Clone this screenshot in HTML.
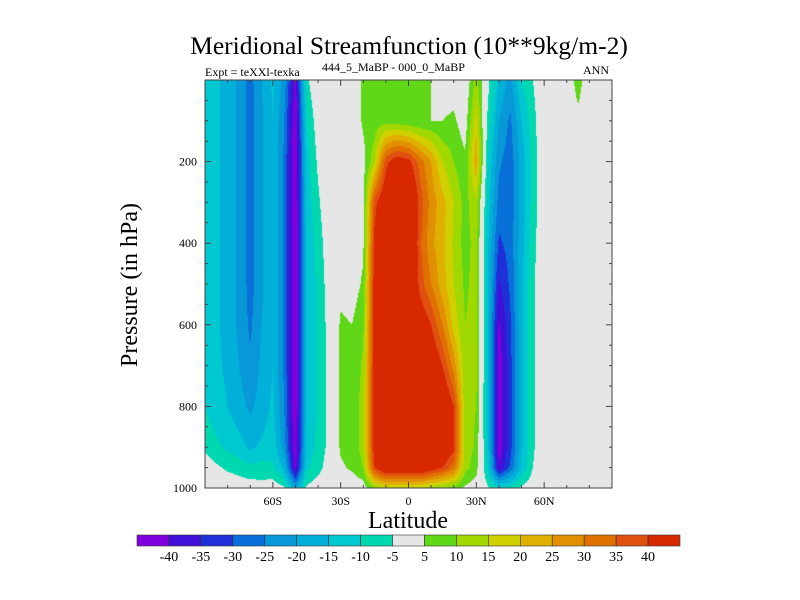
<!DOCTYPE html>
<html><head><meta charset="utf-8">
<style>
body{margin:0;background:#fff;width:800px;height:600px;overflow:hidden;font-family:"Liberation Serif",serif}
#wrap{position:relative;width:800px;height:600px}
canvas{position:absolute;left:205px;top:80px}
svg{position:absolute;left:0;top:0}
</style></head><body>
<div id="wrap">
<canvas id="cv" width="407" height="408"></canvas>
<svg id="sv" width="800" height="600"></svg>
</div>
<script>
const lats=[-90,-85,-80,-75,-70,-65,-60,-55,-50,-45,-40,-35,-30,-25,-20,-15,-10,-5,0,5,10,15,20,25,30,35,40,45,50,55,60,65,70,75,80,85,90];
const pres=[0,100,200,300,400,500,600,700,800,900,950,1000];
const field=[
[-11,-11,-11,-11,-11,-11,-11,-11,-10,-6,-2,0],
[-14,-14,-14,-14,-14,-14,-14,-14,-13,-9,-4,0],
[-17,-17,-17,-17,-17,-17,-17,-16,-15,-11,-6,-1],
[-21,-21,-21,-21,-21,-21,-21,-20,-18,-13,-7,-2],
[-27,-27,-27,-27,-27,-27,-26,-24,-21,-16,-9,-2],
[-20,-21,-21,-21,-21,-21,-20,-19,-18,-14,-8,-3],
[-14,-15,-15,-15,-15,-15,-15,-15,-14,-12,-9,-2],
[-22,-25,-26,-26,-26,-26,-26,-26,-25,-22,-16,-4],
[-42,-45,-46,-46,-46,-46,-46,-46,-46,-45,-42,-20],
[-6,-10,-12,-13,-14,-14,-14,-14,-14,-13,-11,-4],
[0,-2,-4,-6,-8,-9,-9,-9,-9,-9,-7,-2],
[0,0,0,0,-1,-2,-3,-3,-3,-3,-2,0],
[0,0,0,0,0,3,6,6,6,6,4,0],
[0,0,0,0,0,2,5,6,7,7,6,1],
[6,6,3,3,4,6,9,11,12,12,10,2],
[7,7,14,38,42,44,44,44,44,44,40,10],
[7,8,38,48,50,50,50,50,50,50,50,15],
[7,7,45,55,55,55,55,55,55,55,50,15],
[6,6,42,55,55,55,55,55,55,55,50,15],
[6,5,33,38,36,38,46,52,55,55,50,15],
[5,5,25,28,26,30,40,48,52,52,45,12],
[2,5,15,22,22,22,30,40,50,50,40,10],
[2,6,10,15,14,15,18,28,40,42,32,8],
[0,2,6,8,8,9,10,11,12,13,12,4],
[12,18,24,14,12,12,12,11,10,9,7,2],
[-3,-6,-10,-12,-14,-14,-14,-14,-14,-13,-11,-4],
[-15,-20,-24,-27,-31,-36,-41,-43,-43,-43,-40,-10],
[-22,-26,-28,-28,-28,-29,-31,-32,-32,-32,-29,-8],
[-10,-15,-18,-18,-17,-16,-16,-16,-16,-16,-14,-4],
[-5,-7,-8,-8,-7,-6,-6,-6,-6,-6,-5,-2],
[0,0,0,0,0,0,0,0,0,0,0,0],
[0,0,0,0,0,0,0,0,0,0,0,0],
[0,0,0,0,0,0,0,0,0,0,0,0],
[8,3,0,0,0,0,0,0,0,0,0,0],
[0,0,0,0,0,0,0,0,0,0,0,0],
[0,0,0,0,0,0,0,0,0,0,0,0],
[0,0,0,0,0,0,0,0,0,0,0,0]];
const levels=[-40,-35,-30,-25,-20,-15,-10,-5,5,10,15,20,25,30,35,40];
const colors=['#7f00dc','#4010d8','#2030d8','#0870d8','#0898d8','#00b0d8','#00c8d0','#00d8b0','#e6e6e6','#60d818','#a0d800','#d0d000','#e0b000','#e09000','#e07000','#e05010','#d82800'];
const xTicks=[-60,-30,0,30,60];
const xLabels=['60S','30S','0','30N','60N'];
const yTicks=[200,400,600,800,1000];

const PX=205,PY=80,PW=407,PH=408;
const xs=l=>PX+(l+90)/180*PW;
const ys=p=>PY+p/1000*PH;
function hex(c){return [parseInt(c.slice(1,3),16),parseInt(c.slice(3,5),16),parseInt(c.slice(5,7),16)];}
const rgb=colors.map(hex);
function seg(arr,v){let i=0;while(i<arr.length-2&&v>arr[i+1])i++;return [i,(v-arr[i])/(arr[i+1]-arr[i])];}
const ctx=document.getElementById('cv').getContext('2d');
const img=ctx.createImageData(PW,PH);
for(let py=0;py<PH;py++){
  const p=(py+0.5)/PH*1000;const [j,tj]=seg(pres,p);
  for(let px=0;px<PW;px++){
    const l=(px+0.5)/PW*180-90;const [i,ti]=seg(lats,l);
    const v=(field[i][j]*(1-tj)+field[i][j+1]*tj)*(1-ti)+(field[i+1][j]*(1-tj)+field[i+1][j+1]*tj)*ti;
    let k=0;while(k<levels.length&&v>=levels[k])k++;
    const c=rgb[k];const o=(py*PW+px)*4;
    img.data[o]=c[0];img.data[o+1]=c[1];img.data[o+2]=c[2];img.data[o+3]=255;
  }
}
ctx.putImageData(img,0,0);

const sv=document.getElementById('sv');const NS='http://www.w3.org/2000/svg';
function mk(t,a,txt){const e=document.createElementNS(NS,t);for(const k in a)e.setAttribute(k,a[k]);if(txt!==undefined)e.textContent=txt;sv.appendChild(e);return e;}
let e;
e=mk('rect',{x:PX,y:PY,width:PW,height:PH,fill:'none',stroke:'#444','stroke-width':1});


for(let l=-80;l<=80;l+=10){
  const major=xTicks.includes(l);const len=major?6:3;
  e=mk('line',{x1:xs(l),x2:xs(l),y1:PY+PH,y2:PY+PH-len,stroke:'#444'});
  
  
  mk('line',{x1:xs(l),x2:xs(l),y1:PY,y2:PY+len,stroke:'#444'});
}
xTicks.forEach((l,i)=>{
  e=mk('text',{x:xs(l),y:505,'font-size':12,'text-anchor':'middle',fill:'#000'},xLabels[i]);
  
  
});
for(let p=50;p<1000;p+=50){
  const major=yTicks.includes(p);const len=major?6:3;
  e=mk('line',{x1:PX,x2:PX+len,y1:ys(p),y2:ys(p),stroke:'#444'});
  
  
  mk('line',{x1:PX+PW,x2:PX+PW-len,y1:ys(p),y2:ys(p),stroke:'#444'});
}
yTicks.forEach(p=>{
  e=mk('text',{x:PX-8,y:ys(p)+4,'font-size':12,'text-anchor':'end',fill:'#000'},String(p));
  
  
});
e=mk('text',{x:409,y:54,'font-size':25.5,'text-anchor':'middle'},'Meridional Streamfunction (10**9kg/m-2)');


e=mk('text',{x:205,y:76,'font-size':12},'Expt = teXXl-texka');


e=mk('text',{x:322,y:71,'font-size':12},'444_5_MaBP - 000_0_MaBP');


e=mk('text',{x:583,y:74,'font-size':12},'ANN');


e=mk('text',{x:408,y:528,'font-size':24,'text-anchor':'middle'},'Latitude');


e=mk('text',{x:0,y:0,'font-size':24,'text-anchor':'middle',transform:'translate(137,285) rotate(-90)'},'Pressure (in hPa)');


const CX=137,CW=543/17;
colors.forEach((c,i)=>{
  e=mk('rect',{x:CX+i*CW,y:535,width:CW,height:11,fill:c,stroke:'#333','stroke-width':0.6});
  
  
});
levels.forEach((v,i)=>{
  e=mk('text',{x:CX+(i+1)*CW,y:561,'font-size':14,'text-anchor':'middle'},String(v));
  
  
});
</script>
</body></html>
